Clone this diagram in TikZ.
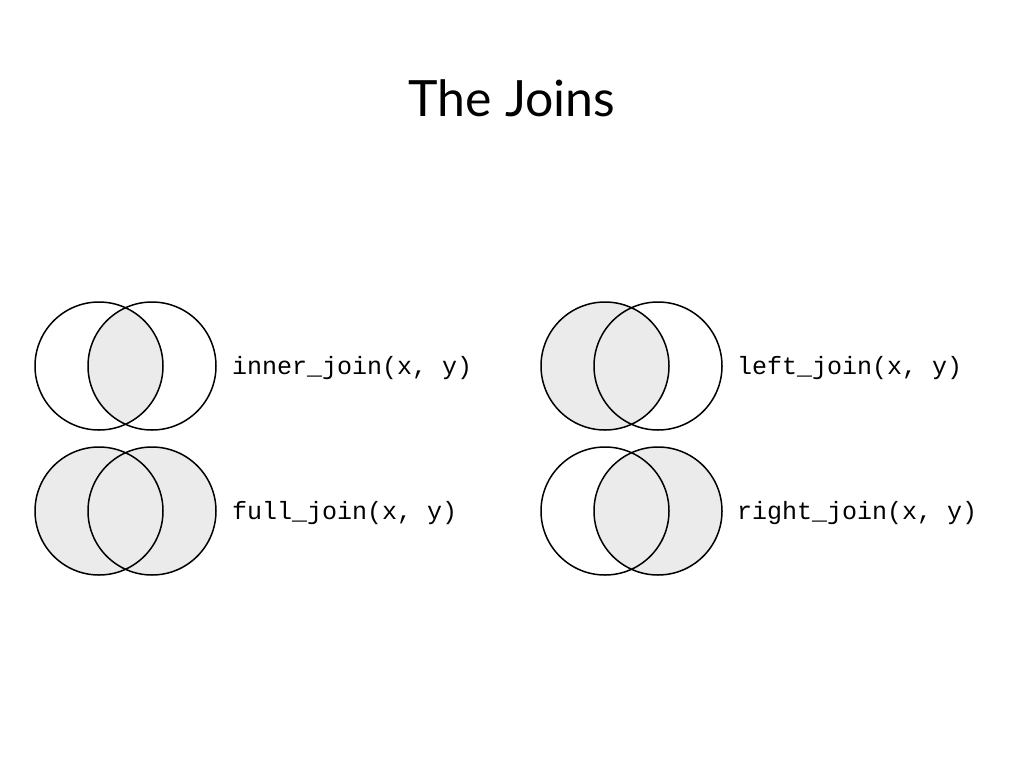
\documentclass[tikz,border=0pt]{standalone}
\usepackage{fontspec}
\setmainfont{Lato}
\setmonofont{Liberation Mono}
\usetikzlibrary{positioning}
\definecolor{vennfill}{HTML}{EBEBEB}
\tikzset{
  ring/.style={draw, line width=1.5pt},
  joinlabel/.style={anchor=west, inner sep=0pt, font=\fontsize{25}{30}\selectfont\ttfamily},
}
\begin{document}
\begin{tikzpicture}[x=1pt, y=-1pt]
            \useasboundingbox (0,0) rectangle (1024,768);
            \node[font=\fontsize{50}{60}\selectfont] (title) at (512,98) {The Joins};
            % inner
            \begin{scope}
              \clip (99,366) circle (64);
              \fill[vennfill] (152,366) circle (64);
            \end{scope}
            \draw[ring] (99,366) circle (64);
            \draw[ring] (152,366) circle (64);
            \node[joinlabel] (inner) at (232,368) {inner\_join(x, y)};
            % full
            \fill[vennfill] (99,511) circle (64);
            \fill[vennfill] (152,511) circle (64);
            \draw[ring] (99,511) circle (64);
            \draw[ring] (152,511) circle (64);
            \node[joinlabel] (full) at (232,513) {full\_join(x, y)};
            % left
            \fill[vennfill] (605,366) circle (64);
            \draw[ring] (605,366) circle (64);
            \draw[ring] (658,366) circle (64);
            \node[joinlabel] (left) at (737,368) {left\_join(x, y)};
            % right
            \fill[vennfill] (658,511) circle (64);
            \draw[ring] (605,511) circle (64);
            \draw[ring] (658,511) circle (64);
            \node[joinlabel] (right) at (737,513) {right\_join(x, y)};
\end{tikzpicture}
\end{document}
